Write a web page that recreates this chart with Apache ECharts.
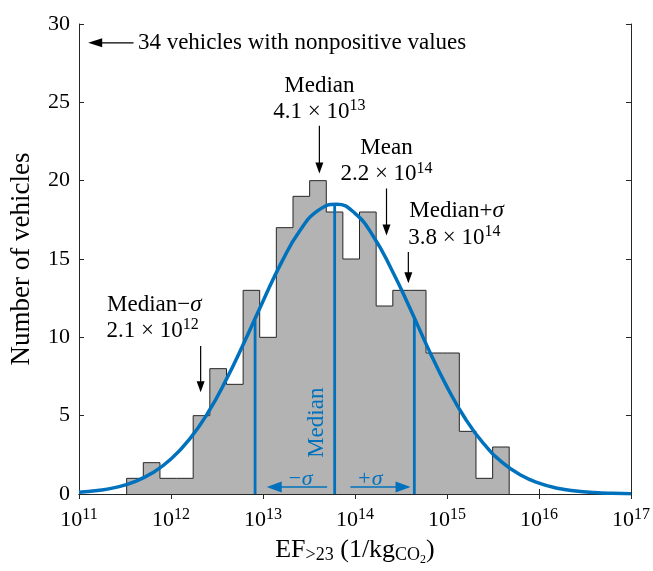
<!DOCTYPE html>
<html>
<head>
<meta charset="utf-8">
<script src="https://cdn.jsdelivr.net/npm/echarts@6/dist/echarts.min.js"></script>
<style>
  html, body { margin: 0; padding: 0; background: #fff; }
  #chart { width: 653px; height: 571px; }
</style>
</head>
<body>
<div id="chart"></div>
<script>
// histogram bins, x in log10 units
const binEdges = [11.518, 11.699, 11.880, 12.060, 12.241, 12.422, 12.603, 12.784, 12.964, 13.145,
  13.326, 13.507, 13.688, 13.868, 14.049, 14.230, 14.411, 14.592, 14.772, 14.953, 15.134, 15.315,
  15.496, 15.676];
const binCounts = [1, 2, 1, 1, 5, 8, 7, 13, 10, 17, 19, 20, 18, 15, 18, 12, 13, 13, 9, 9, 4, 1, 3];

// fitted normal curve
const curveX = [11, 11.2, 11.4, 11.6, 11.8, 12, 12.2, 12.4, 12.6, 12.8, 13, 13.2, 13.4, 13.6, 13.8,
  14, 14.2, 14.4, 14.6, 14.8, 15, 15.2, 15.4, 15.6, 15.8, 16, 16.2, 16.4, 16.6, 16.8, 17];
const curveY = [0.11, 0.22, 0.42, 0.78, 1.35, 2.23, 3.49, 5.17, 7.3, 9.74, 12.31, 14.77, 16.8,
  18.1, 18.49, 17.91, 16.44, 14.3, 11.83, 9.23, 6.84, 4.8, 3.2, 2.02, 1.21, 0.69, 0.37, 0.19,
  0.09, 0.04, 0.02];

// median-sigma, median, median+sigma lines (x) and where they meet the curve (y)
const refLineX = [12.914, 13.779, 14.645];
const refLineTop = [11.1, 18.5, 11.2];

// annotated values
const medianVal = 4.1e13;
const meanVal = 2.2e14;
const medPlusVal = 3.8e14;
const medMinusVal = 2.1e12;

const blue = '#0072BD';
const ink = '#262626';
const serif = 'Liberation Serif';

// stairs outline: start at 0, step through the counts, back down to 0
const histData = [[binEdges[0], 0]];
binCounts.forEach((c, i) => histData.push([binEdges[i], c]));
histData.push([binEdges[binEdges.length - 1], binCounts[binCounts.length - 1]]);
histData.push([binEdges[binEdges.length - 1], 0]);

const supRich = {
  n: { fontFamily: serif, fontSize: 23, color: '#000' },
  s: { fontFamily: serif, fontSize: 16, color: '#000', padding: [0, 0, 12, 0] },
  g: { fontFamily: serif, fontSize: 23, color: '#000', fontStyle: 'italic' }
};

const chart = echarts.init(document.getElementById('chart'));

chart.setOption({
  animation: false,
  grid: { left: 77, right: 17, top: 24, bottom: 67 },
  xAxis: [{
    type: 'value', min: 11, max: 17, interval: 1,
    axisLine: { lineStyle: { color: ink } },
    axisTick: { inside: true, length: 5, lineStyle: { color: ink } },
    splitLine: { show: false },
    axisLabel: {
      margin: 13,
      formatter: v => '{b|10}{s|' + v + '}',
      rich: {
        b: { fontFamily: serif, fontSize: 22, color: '#000' },
        s: { fontFamily: serif, fontSize: 16, color: '#000', padding: [0, 0, 10, 0] }
      }
    },
    name: '{n|EF}{sub|>23}{n| (1/kg}{sub|CO}{ss|2}{n|)}',
    nameLocation: 'middle',
    nameGap: 40,
    nameTextStyle: {
      rich: {
        n: { fontFamily: serif, fontSize: 26, color: '#000' },
        sub: { fontFamily: serif, fontSize: 18, color: '#000', padding: [11, 0, 0, 0] },
        ss: { fontFamily: serif, fontSize: 12, color: '#000', padding: [20, 0, 0, 0] }
      }
    }
  }, {
    type: 'value', position: 'top', min: 11, max: 17, interval: 1,
    axisLine: { lineStyle: { color: ink } },
    axisTick: { inside: true, length: 5, lineStyle: { color: ink } },
    axisLabel: { show: false },
    splitLine: { show: false }
  }],
  yAxis: [{
    type: 'value', min: 0, max: 30, interval: 5,
    axisLine: { show: true, lineStyle: { color: ink } },
    axisTick: { show: true, inside: true, length: 5, lineStyle: { color: ink } },
    splitLine: { show: false },
    axisLabel: { margin: 9, fontFamily: serif, fontSize: 22, color: '#000' },
    name: 'Number of vehicles',
    nameLocation: 'middle',
    nameGap: 44,
    nameTextStyle: { fontFamily: serif, fontSize: 27, color: '#000' }
  }, {
    type: 'value', position: 'right', min: 0, max: 30, interval: 5,
    axisLine: { show: true, lineStyle: { color: ink } },
    axisTick: { show: true, inside: true, length: 5, lineStyle: { color: ink } },
    axisLabel: { show: false },
    splitLine: { show: false }
  }],
  series: [
    {
      name: 'hist',
      type: 'line',
      step: 'end',
      data: histData,
      symbol: 'none',
      lineStyle: { color: ink, width: 1 },
      areaStyle: { color: '#b3b3b3', opacity: 1 },
      z: 2
    },
    {
      name: 'lines',
      type: 'custom',
      data: refLineX.map((x, i) => [x, refLineTop[i]]),
      renderItem: (params, api) => {
        const b = api.coord([api.value(0), 0]);
        const t = api.coord([api.value(0), api.value(1)]);
        return {
          type: 'line',
          shape: { x1: b[0], y1: b[1], x2: t[0], y2: t[1] },
          style: { stroke: blue, lineWidth: 2.8 }
        };
      },
      z: 3
    },
    {
      name: 'fit',
      type: 'line',
      data: curveX.map((x, i) => [x, curveY[i]]),
      smooth: true,
      symbol: 'none',
      lineStyle: { color: blue, width: 3.5 },
      z: 4
    }
  ]
});

const px = (x, y) => chart.convertToPixel({ seriesIndex: 0 }, [x, y]);

function arrow(x1, y1, x2, y2, color, hl, hw, lw) {
  const p1 = px(x1, y1), p2 = px(x2, y2);
  const dx = p2[0] - p1[0], dy = p2[1] - p1[1];
  const len = Math.sqrt(dx * dx + dy * dy);
  const ux = dx / len, uy = dy / len;
  const bx = p2[0] - ux * hl, by = p2[1] - uy * hl;
  return [{
    type: 'line',
    shape: { x1: p1[0], y1: p1[1], x2: bx + ux, y2: by + uy },
    style: { stroke: color, lineWidth: lw }
  }, {
    type: 'polygon',
    shape: { points: [[p2[0], p2[1]], [bx - uy * hw / 2, by + ux * hw / 2], [bx + uy * hw / 2, by - ux * hw / 2]] },
    style: { fill: color }
  }];
}

function label(x, y, text, align) {
  const p = px(x, y);
  return {
    type: 'text',
    x: p[0], y: p[1],
    style: {
      text: text, rich: supRich, align: align, verticalAlign: 'middle',
      fontFamily: serif, fontSize: 23, fill: '#000'
    }
  };
}

const lm = Math.log10(medianVal), lmean = Math.log10(meanVal);
const lp = Math.log10(medPlusVal), ln = Math.log10(medMinusVal);

let g = [];
// nonpositive note
g = g.concat(arrow(11.593, 28.8, 11.10, 28.8, '#000', 14, 9, 1.2));
g.push(label(11.64, 28.8, '{n|34 vehicles with nonpositive values}', 'left'));
// median
g.push(label(lm, 26.05, '{n|Median}', 'center'));
g.push(label(lm, 24.4, '{n|4.1 × 10}{s|13}', 'center'));
g = g.concat(arrow(lm, 23.5, lm, 20.45, '#000', 11, 8, 1.2));
// mean
g.push(label(lmean, 22.1, '{n|Mean}', 'center'));
g.push(label(lmean, 20.4, '{n|2.2 × 10}{s|14}', 'center'));
g = g.concat(arrow(lmean, 19.5, lmean, 16.5, '#000', 11, 8, 1.2));
// median + sigma
g.push(label(lp + 0.01, 18.05, '{n|Median+}{g|σ}', 'left'));
g.push(label(lp, 16.35, '{n|3.8 × 10}{s|14}', 'left'));
g = g.concat(arrow(lp, 15.45, lp, 13.45, '#000', 11, 8, 1.2));
// median - sigma
g.push(label(ln + 0.01, 12.05, '{n|Median−}{g|σ}', 'right'));
g.push(label(ln - 0.02, 10.4, '{n|2.1 × 10}{s|12}', 'right'));
g = g.concat(arrow(ln, 9.45, ln, 6.5, '#000', 11, 8, 1.2));
// rotated median label beside the median line
const pm = px(refLineX[1] - 0.19, 4.55);
g.push({
  type: 'text', x: pm[0], y: pm[1], rotation: Math.PI / 2,
  style: { text: 'Median', fontFamily: serif, fontSize: 23, fill: blue, align: 'center', verticalAlign: 'middle' }
});
// sigma arrows
g = g.concat(arrow(13.697, 0.45, 13.04, 0.45, blue, 15, 11, 1.6));
g = g.concat(arrow(13.95, 0.45, 14.604, 0.45, blue, 15, 11, 1.6));
const pms = px(13.4, 0.95), pps = px(14.16, 0.95);
g.push({ type: 'text', x: pms[0], y: pms[1], style: { text: '−σ', fontFamily: serif, fontStyle: 'italic', fontSize: 22, fill: blue, align: 'center', verticalAlign: 'middle' } });
g.push({ type: 'text', x: pps[0], y: pps[1], style: { text: '+σ', fontFamily: serif, fontStyle: 'italic', fontSize: 22, fill: blue, align: 'center', verticalAlign: 'middle' } });

chart.setOption({ graphic: g.map(e => Object.assign({ z: 10 }, e)) });
</script>
</body>
</html>
